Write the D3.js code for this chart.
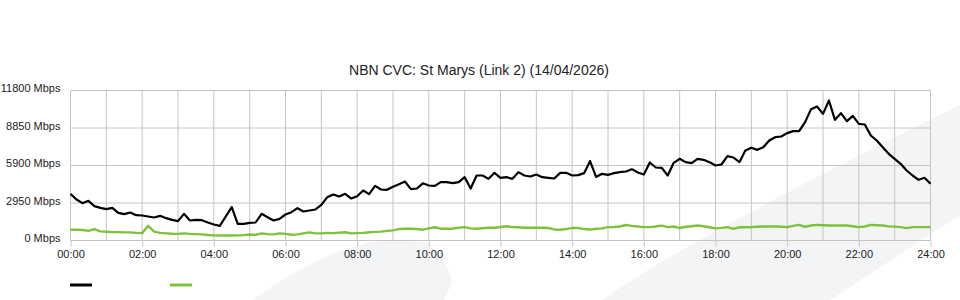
<!DOCTYPE html>
<html>
<head>
<meta charset="utf-8">
<script src="https://cdn.jsdelivr.net/npm/d3@7"></script>
<style>
  body { margin: 0; background: #fff; }
  text { font-family: "Liberation Sans", Arial, sans-serif; }
</style>
</head>
<body>
<div id="chart-area"></div>
<script>
// samples every 10 minutes, 00:00 -> 24:00
var downloadMbps = [
  3670, 3225, 2937, 3120, 2700, 2570, 2465, 2570, 2176, 2072, 2200, 1990,
  1967, 1888, 1810, 1940, 1757, 1625, 1520, 2098, 1573, 1625, 1600, 1416,
  1259, 1154, 1888, 2620, 1311, 1311, 1390, 1416, 2098, 1835, 1573, 1705,
  2045, 2230, 2543, 2281, 2360, 2438, 2805, 3408, 3618, 3460, 3670, 3303,
  3480, 3933, 3645, 4300, 4012, 3985, 4222, 4432, 4641, 4038, 4090, 4500,
  4327, 4300, 4589, 4589, 4510, 4589, 4982, 4090, 5114, 5114, 4851, 5323,
  4930, 4982, 4851, 5376, 5114, 5035, 5192, 4982, 4930, 4877, 5323, 5323,
  5114, 5140, 5297, 6250, 5000, 5245, 5166, 5297, 5376, 5428, 5612, 5350,
  5192, 6136, 5743, 5717, 5114, 6110, 6425, 6163, 6084, 6425, 6346, 6163,
  5900, 5979, 6634, 6530, 6163, 7080, 7290, 7132, 7342, 7867, 8129, 8182,
  8444, 8601, 8601, 9309, 10332, 10542, 9965, 11014, 9493, 10017, 9388, 9807,
  9178, 9126, 8261, 7867, 7342, 6818, 6425, 6031, 5507, 5114, 4773, 4930,
  4458
];
var uploadMbps = [
  840, 840, 830, 760, 900, 720, 690, 660, 655, 640, 640, 600,
  580, 1150, 700, 600, 560, 530, 520, 560, 520, 500, 480, 430,
  400, 390, 390, 390, 400, 420, 470, 440, 560, 500, 480, 560,
  520, 450, 480, 560, 640, 560, 560, 600, 580, 620, 650, 560,
  580, 600, 650, 680, 700, 760, 800, 900, 930, 920, 900, 850,
  950, 1040, 930, 920, 930, 1000, 1050, 950, 930, 960, 1000, 1000,
  1060, 1120, 1050, 1040, 1000, 1000, 1000, 1000, 980, 870, 850, 900,
  990, 980, 900, 860, 920, 950, 1050, 1060, 1100, 1220, 1150, 1100,
  1050, 1050, 1100, 1170, 1050, 1100, 980, 1080, 1120, 1180, 1120, 1040,
  950, 990, 1050, 920, 1040, 1040, 1050, 1080, 1100, 1100, 1100, 1080,
  1050, 1150, 1230, 1080, 1180, 1230, 1200, 1180, 1180, 1180, 1180, 1120,
  1050, 1100, 1230, 1200, 1180, 1110, 1090, 1050, 970, 1050, 1050, 1050,
  1050
];
var yTicks = [0, 2950, 5900, 8850, 11800];
var hourTicks = ["00:00", "02:00", "04:00", "06:00", "08:00", "10:00", "12:00",
  "14:00", "16:00", "18:00", "20:00", "22:00", "24:00"];
var chartTitle = "NBN CVC: St Marys (Link 2) (14/04/2026)";
var seriesColors = ["#000000", "#7dc23a"];

var width = 960;
var height = 300;
var margin = {top: 90, right: 30, bottom: 60, left: 70};

var svg = d3.select("#chart-area").append("svg")
	.attr("width", width)
	.attr("height", height);

// faint background swooshes
svg.append("path")
	.attr("d", "M253,300 C290,272 330,252 367,243 C385,239 405,239 427,243 C440,252 448,265 452,283 L444,300 Z")
	.attr("fill", "#f3f4f6");
svg.append("path")
	.attr("d", "M602,300 Q690,238 960,105 L960,215 L830,300 Z")
	.attr("fill", "#f3f4f6");

var x = d3.scaleLinear()
	.domain([0, 1440])
	.range([margin.left + 0.5, width - margin.right + 0.5]);

var y = d3.scaleLinear()
	.domain([0, 11800])
	.range([height - margin.bottom + 0.5, margin.top + 0.5]);

// grid
var hours = d3.range(0, 25);
svg.append("g").selectAll("line")
	.data(hours)
	.enter()
	.append("line")
		.attr("x1", (d) => x(d * 60))
		.attr("x2", (d) => x(d * 60))
		.attr("y1", y(0))
		.attr("y2", y(11800))
		.attr("stroke", "#c4c4c4")
		.attr("stroke-width", 1);
svg.append("g").selectAll("line")
	.data(yTicks)
	.enter()
	.append("line")
		.attr("x1", x(0))
		.attr("x2", x(1440))
		.attr("y1", (d) => y(d))
		.attr("y2", (d) => y(d))
		.attr("stroke", "#c4c4c4")
		.attr("stroke-width", 1);

// axes
var bottomAxis = d3.axisBottom(x)
	.tickValues(hourTicks.map((d, i) => i * 120))
	.tickFormat((d, i) => hourTicks[i])
	.tickSize(6)
	.tickPadding(4);
var gx = svg.append("g")
	.attr("transform", "translate(0, " + y(0) + ")")
	.call(bottomAxis);
gx.select(".domain").remove();
gx.selectAll("line").attr("stroke", "#c4c4c4");
gx.selectAll("text")
	.attr("font-size", "11px")
	.attr("font-family", "'Liberation Sans', Arial, sans-serif")
	.attr("fill", "#222");

var leftAxis = d3.axisLeft(y)
	.tickValues(yTicks)
	.tickFormat((d) => d + " Mbps")
	.tickSize(0)
	.tickPadding(10);
var gy = svg.append("g")
	.attr("transform", "translate(" + x(0) + ", 0)")
	.call(leftAxis);
gy.select(".domain").remove();
gy.selectAll("text")
	.attr("dy", "0.1em")
	.attr("font-size", "11px")
	.attr("font-family", "'Liberation Sans', Arial, sans-serif")
	.attr("fill", "#222");

// series
var line = d3.line()
	.x((d, i) => x(i * 10))
	.y((d) => y(d));

svg.append("path")
	.datum(uploadMbps)
	.attr("fill", "none")
	.attr("stroke", seriesColors[1])
	.attr("stroke-width", 2.4)
	.attr("stroke-linejoin", "round")
	.attr("d", line);

svg.append("path")
	.datum(downloadMbps)
	.attr("fill", "none")
	.attr("stroke", seriesColors[0])
	.attr("stroke-width", 2.2)
	.attr("stroke-linejoin", "round")
	.attr("d", line);

// title
svg.append("text")
	.attr("x", 479)
	.attr("y", 75)
	.attr("text-anchor", "middle")
	.attr("font-size", "14px")
	.attr("fill", "#222")
	.text(chartTitle);

// legend (swatches only)
svg.append("g").selectAll("line")
	.data(seriesColors)
	.enter()
	.append("line")
		.attr("x1", (d, i) => 70 + i * 100)
		.attr("x2", (d, i) => 92 + i * 100)
		.attr("y1", 285)
		.attr("y2", 285)
		.attr("stroke", (d) => d)
		.attr("stroke-width", 3);
</script>
</body>
</html>
